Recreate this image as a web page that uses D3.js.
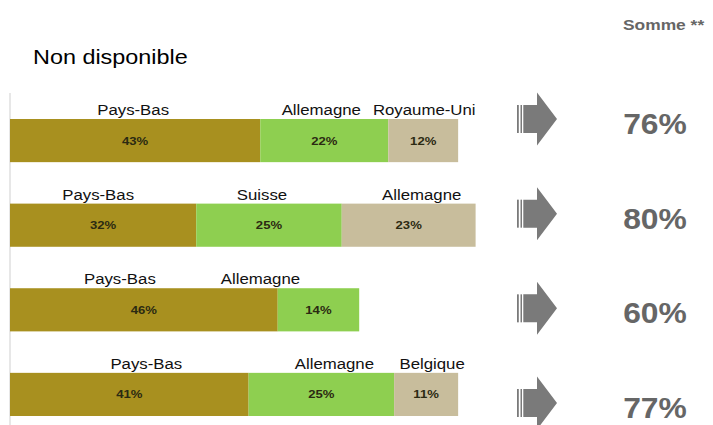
<!DOCTYPE html>
<html>
<head>
<meta charset="utf-8">
<script src="https://cdn.jsdelivr.net/npm/d3@7"></script>
<style>
  body { margin: 0; background: #fff; }
  svg { display: block; font-family: "Liberation Sans", Arial, sans-serif; }
</style>
</head>
<body>
<div id="chart"></div>
<script>
// data
var rows = ["r1", "r2", "r3", "r4"];
var countries = [
  ["Pays-Bas", "Allemagne", "Royaume-Uni"],
  ["Pays-Bas", "Suisse", "Allemagne"],
  ["Pays-Bas", "Allemagne"],
  ["Pays-Bas", "Allemagne", "Belgique"]
];
var shares = [
  [43, 22, 12],
  [32, 25, 23],
  [46, 14],
  [41, 25, 11]
];
var totals = [76, 80, 60, 77];
var totalTitle = "Somme **";
var subTitle = "Non disponible";

// layout
var width = 713, height = 425;
var colors = ["#a8901f", "#8ecf50", "#c8bd9c"];
// small nudges of the country names, as in the original slide
var labelDx = [[-2, -3, 1], [-5, -7, 13], [-24, -58], [17, 13, 6]];

var svg = d3.select("#chart")
  .append("svg")
    .attr("width", width)
    .attr("height", height);

var x = d3.scaleLinear()
  .domain([0, 100])
  .range([10, 592]);

var y = d3.scaleBand()
  .domain(rows)
  .range([119, 416])
  .paddingInner(0.49)
  .paddingOuter(0);

// right column sits on its own spacing
var yRight = d3.scalePoint()
  .domain(rows)
  .range([119, 403]);

// stretched text helper (the slide text is a bit wider than normal)
function addText(g, str, tx, ty, opts) {
  return g.append("text")
    .attr("transform", "translate(" + tx + "," + ty + ") scale(" + (opts.sx || 1) + ",1)")
    .attr("text-anchor", opts.anchor || "start")
    .style("font-size", opts.size + "px")
    .style("font-weight", opts.bold ? "bold" : "normal")
    .attr("fill", opts.fill || "#000")
    .text(str);
}

// titles
addText(svg, subTitle, 33, 64, {size: 19.5, sx: 1.2});
addText(svg, totalTitle, 623, 30, {size: 14.5, bold: true, sx: 1.2, fill: "#666"});

// thin vertical axis line
svg.append("line")
  .attr("x1", x(0)).attr("x2", x(0))
  .attr("y1", 93).attr("y2", height)
  .attr("stroke", "#cfcfcf")
  .attr("stroke-width", 1);

// build segments
var segs = [];
rows.forEach(function(r, i) {
  var start = 0;
  shares[i].forEach(function(v, j) {
    segs.push({row: r, i: i, j: j, name: countries[i][j], value: v, x0: start, x1: start + v});
    start += v;
  });
});

var bars = svg.append("g");

bars.selectAll("rect")
  .data(segs)
  .enter()
  .append("rect")
    .attr("x", function(d) { return x(d.x0); })
    .attr("y", function(d) { return y(d.row); })
    .attr("width", function(d) { return x(d.x1) - x(d.x0); })
    .attr("height", y.bandwidth())
    .attr("fill", function(d) { return colors[d.j]; });

// value labels inside the bars
segs.forEach(function(d) {
  var cx = (x(d.x0) + x(d.x1)) / 2;
  addText(bars, d.value + "%", cx, y(d.row) + y.bandwidth() / 2 + 4, {size: 10.5, bold: true, sx: 1.25, anchor: "middle", fill: "#2b2a12"});
});

// country names above the bars
segs.forEach(function(d) {
  var cx = (x(d.x0) + x(d.x1)) / 2 + labelDx[d.i][d.j];
  addText(bars, d.name, cx, y(d.row) - 4, {size: 15, sx: 1.12, anchor: "middle", fill: "#111"});
});

// arrows + totals
var right = svg.append("g");
rows.forEach(function(r, i) {
  var cy = yRight(r);
  var a = right.append("g").attr("transform", "translate(517," + cy + ")");
  a.append("rect").attr("x", 0).attr("y", -14).attr("width", 1.8).attr("height", 28).attr("fill", "#7a7a7a");
  a.append("rect").attr("x", 3.5).attr("y", -14).attr("width", 1.5).attr("height", 28).attr("fill", "#7a7a7a");
  a.append("path")
    .attr("d", "M6.3,-14 L20,-14 L20,-26.5 L40,0 L20,26.5 L20,14 L6.3,14 Z")
    .attr("fill", "#7a7a7a");

  addText(right, totals[i] + "%", 655, cy + 15, {size: 30, bold: true, sx: 1.06, anchor: "middle", fill: "#666"});
});
</script>
</body>
</html>
